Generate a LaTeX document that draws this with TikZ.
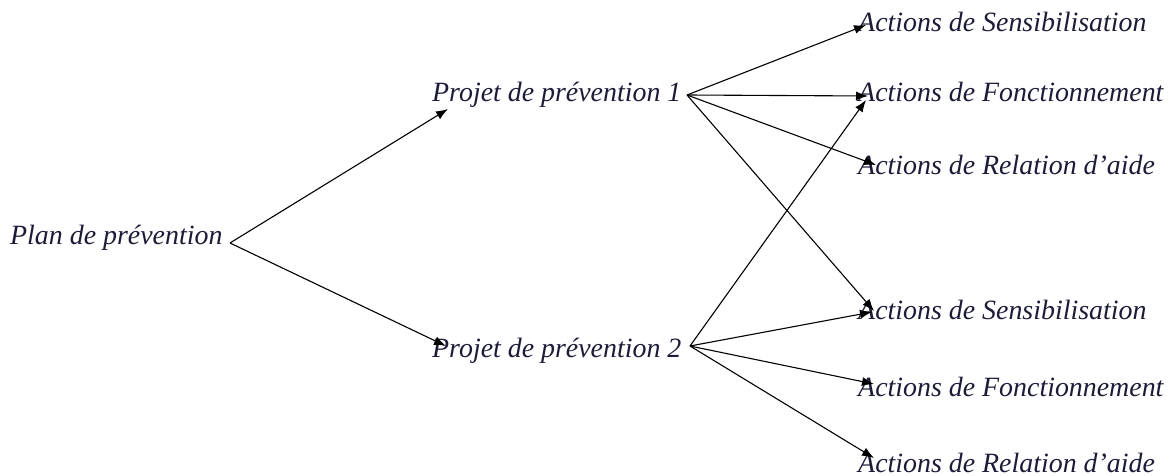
\documentclass[tikz,border=0pt]{standalone}
\usepackage{fontspec}
\setmainfont{Liberation Serif}
\usetikzlibrary{arrows.meta}
\definecolor{ink}{HTML}{1C1C38}
\begin{document}
\begin{tikzpicture}[x=1bp,y=-1bp,
  lbl/.style={anchor=base west,inner sep=0pt,font=\fontsize{28}{32}\selectfont\itshape,text=ink},
  arr/.style={draw=black,line width=1.1bp,-{Latex[length=12bp,width=9bp]}}]
\useasboundingbox (0,0) rectangle (1171,476);
\node[lbl] (plan) at (10,245) {Plan de prévention};
\node[lbl] (p1) at (432,102) {Projet de prévention 1};
\node[lbl] (p2) at (432,358) {Projet de prévention 2};
\node[lbl] (s1) at (858,32) {Actions de Sensibilisation};
\node[lbl] (f1) at (858,102) {Actions de Fonctionnement};
\node[lbl] (r1) at (858,175) {Actions de Relation d'aide};
\node[lbl] (s2) at (858,320) {Actions de Sensibilisation};
\node[lbl] (f2) at (858,397) {Actions de Fonctionnement};
\node[lbl] (r2) at (858,472) {Actions de Relation d'aide};
% connector ends
\coordinate (planout) at (230,243);
\coordinate (p1in) at (448,109);
\coordinate (p2in) at (446,346);
\coordinate (p1out) at (687,95);
\coordinate (p2out) at (690,346);
\coordinate (s1in) at (866,25);
\coordinate (f1in) at (868,96);
\coordinate (f1inb) at (866,100);
\coordinate (r1in) at (876,165);
\coordinate (s2in) at (874,311);
\coordinate (s2inb) at (872,312);
\coordinate (f2in) at (874,384);
\coordinate (r2in) at (874,458);
\draw[arr] (planout) -- (p1in);
\draw[arr] (planout) -- (p2in);
\draw[arr] (p1out) -- (s1in);
\draw[arr] (p1out) -- (f1in);
\draw[arr] (p1out) -- (r1in);
\draw[arr] (p1out) -- (s2in);
\draw[arr] (p2out) -- (f1inb);
\draw[arr] (p2out) -- (s2inb);
\draw[arr] (p2out) -- (f2in);
\draw[arr] (p2out) -- (r2in);
\end{tikzpicture}
\end{document}
